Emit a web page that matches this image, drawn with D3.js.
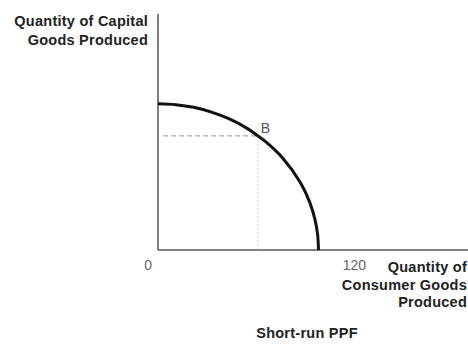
<!DOCTYPE html>
<html>
<head>
<meta charset="utf-8">
<script src="https://cdn.jsdelivr.net/npm/d3@7"></script>
<style>
  html, body { margin: 0; padding: 0; background: #fff; }
  svg { display: block; }
  .lbl { font-family: "Liberation Sans", Arial, sans-serif; font-weight: bold; font-size: 14.5px; letter-spacing: 0.25px; fill: #222; }
  .tick { font-family: "Liberation Sans", Arial, sans-serif; font-size: 14px; fill: #666; }
</style>
</head>
<body>
<svg id="chart" width="468" height="345"></svg>
<script>
// Production possibilities frontier: consumer goods (x) vs capital goods (y)
const consumerGoods = [0, 10, 20, 30, 40, 50, 56, 60, 70, 80, 85, 88, 89.5, 90];
const capitalGoods  = [82, 81.5, 80, 77.3, 73.5, 68.2, 64, 61, 51.5, 37.6, 27, 17.2, 8.6, 0];
const pointB = { label: "B", x: 56, y: 64 };
const xTickLabels = [0, 120];
const yAxisTitle = ["Quantity of Capital", "Goods Produced"];
const xAxisTitle = ["Quantity of", "Consumer Goods", "Produced"];
const chartTitle = "Short-run PPF";

const svg = d3.select("#chart");
const origin = { x: 158, y: 250 };
const x = d3.scaleLinear().domain([0, 120]).range([origin.x, 372]);
const y = d3.scaleLinear().domain([0, 120]).range([origin.y, origin.y - 214]);

// axes
svg.append("line").attr("x1", origin.x).attr("x2", origin.x)
  .attr("y1", origin.y).attr("y2", 14)
  .attr("stroke", "#555").attr("stroke-width", 1.5);
svg.append("line").attr("x1", origin.x).attr("x2", 468)
  .attr("y1", origin.y).attr("y2", origin.y)
  .attr("stroke", "#555").attr("stroke-width", 1.5);

// guide lines to point B
svg.append("line")
  .attr("x1", x(0) + 5).attr("x2", x(pointB.x))
  .attr("y1", y(pointB.y)).attr("y2", y(pointB.y))
  .attr("stroke", "#999").attr("stroke-width", 1).attr("stroke-dasharray", "5,3");
svg.append("line")
  .attr("x1", x(pointB.x)).attr("x2", x(pointB.x))
  .attr("y1", y(pointB.y)).attr("y2", y(0))
  .attr("stroke", "#ccc").attr("stroke-width", 1).attr("stroke-dasharray", "2,2");

// frontier curve
const pts = consumerGoods.map((c, i) => [c, capitalGoods[i]]);
svg.append("path")
  .attr("d", d3.line().x(d => x(d[0])).y(d => y(d[1])).curve(d3.curveCatmullRom)(pts))
  .attr("fill", "none").attr("stroke", "#111").attr("stroke-width", 3);

// point label
svg.append("text").attr("class", "tick")
  .attr("x", x(pointB.x) + 3).attr("y", y(pointB.y) - 3)
  .style("fill", "#555").text(pointB.label);

// tick labels
svg.selectAll("text.xt").data(xTickLabels).enter().append("text")
  .attr("class", "tick")
  .attr("x", d => x(d) - 6).attr("y", 270)
  .attr("text-anchor", "end").text(d => d);

// axis titles
svg.append("text").attr("class", "lbl").attr("text-anchor", "end")
  .selectAll("tspan").data(yAxisTitle).enter().append("tspan")
  .attr("x", 148).attr("y", (d, i) => 26 + i * 19).text(d => d);
svg.append("text").attr("class", "lbl").attr("text-anchor", "end")
  .selectAll("tspan").data(xAxisTitle).enter().append("tspan")
  .attr("x", 467).attr("y", (d, i) => 272 + i * 17.5).text(d => d);

// chart title
svg.append("text").attr("class", "lbl").attr("text-anchor", "middle")
  .attr("x", 307).attr("y", 338).text(chartTitle);
</script>
</body>
</html>
